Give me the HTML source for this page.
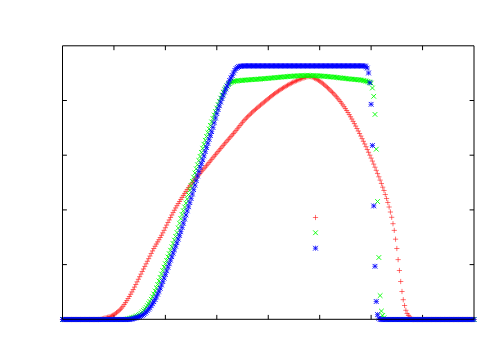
<!DOCTYPE html>
<html><head><meta charset="utf-8"><title>plot</title>
<style>html,body{margin:0;padding:0;background:#fff;font-family:"Liberation Sans",sans-serif}svg{display:block}</style></head><body>
<svg width="500" height="350" viewBox="0 0 500 350">
<rect width="500" height="350" fill="#fff"/>
<path d="M113.94 319.3v-4.4M113.94 45.8v4.4M165.38 319.3v-4.4M165.38 45.8v4.4M216.81 319.3v-4.4M216.81 45.8v4.4M268.25 319.3v-4.4M268.25 45.8v4.4M319.69 319.3v-4.4M319.69 45.8v4.4M371.12 319.3v-4.4M371.12 45.8v4.4M422.56 319.3v-4.4M422.56 45.8v4.4M62.5 100.50h4.4M474.0 100.50h-4.4M62.5 155.20h4.4M474.0 155.20h-4.4M62.5 209.90h4.4M474.0 209.90h-4.4M62.5 264.60h4.4M474.0 264.60h-4.4" fill="none" stroke="#000" stroke-width="1"/>
<path d="M59.90 319.50h5.20M62.50 316.90v5.20M61.19 319.50h5.20M63.79 316.90v5.20M62.47 319.50h5.20M65.07 316.90v5.20M63.76 319.50h5.20M66.36 316.90v5.20M65.04 319.50h5.20M67.64 316.90v5.20M66.33 319.50h5.20M68.93 316.90v5.20M67.62 319.50h5.20M70.22 316.90v5.20M68.90 319.50h5.20M71.50 316.90v5.20M70.19 319.50h5.20M72.79 316.90v5.20M71.47 319.50h5.20M74.07 316.90v5.20M72.76 319.50h5.20M75.36 316.90v5.20M74.05 319.50h5.20M76.65 316.90v5.20M75.33 319.50h5.20M77.93 316.90v5.20M76.62 319.50h5.20M79.22 316.90v5.20M77.90 319.50h5.20M80.50 316.90v5.20M79.19 319.50h5.20M81.79 316.90v5.20M80.48 319.50h5.20M83.08 316.90v5.20M81.76 319.50h5.20M84.36 316.90v5.20M83.05 319.50h5.20M85.65 316.90v5.20M84.33 319.50h5.20M86.93 316.90v5.20M85.62 319.50h5.20M88.22 316.90v5.20M86.90 319.50h5.20M89.50 316.90v5.20M88.19 319.50h5.20M90.79 316.90v5.20M89.48 319.50h5.20M92.08 316.90v5.20M90.76 319.50h5.20M93.36 316.90v5.20M92.05 319.50h5.20M94.65 316.90v5.20M93.33 319.50h5.20M95.93 316.90v5.20M94.62 319.50h5.20M97.22 316.90v5.20M95.91 319.50h5.20M98.51 316.90v5.20M97.19 319.45h5.20M99.79 316.85v5.20M98.48 319.21h5.20M101.08 316.61v5.20M99.76 318.84h5.20M102.36 316.24v5.20M101.05 318.41h5.20M103.65 315.81v5.20M102.34 318.02h5.20M104.94 315.42v5.20M103.62 317.68h5.20M106.22 315.08v5.20M104.91 317.34h5.20M107.51 314.74v5.20M106.19 316.97h5.20M108.79 314.37v5.20M107.48 316.55h5.20M110.08 313.95v5.20M108.77 316.04h5.20M111.37 313.44v5.20M110.05 315.39h5.20M112.65 312.79v5.20M111.34 314.60h5.20M113.94 312.00v5.20M112.62 313.71h5.20M115.22 311.11v5.20M113.91 312.77h5.20M116.51 310.17v5.20M115.20 311.74h5.20M117.80 309.14v5.20M116.48 310.59h5.20M119.08 307.99v5.20M117.77 309.33h5.20M120.37 306.73v5.20M119.05 307.94h5.20M121.65 305.34v5.20M120.34 306.36h5.20M122.94 303.76v5.20M121.62 304.56h5.20M124.22 301.96v5.20M122.91 302.63h5.20M125.51 300.03v5.20M124.20 300.63h5.20M126.80 298.03v5.20M125.48 298.60h5.20M128.08 296.00v5.20M126.77 296.47h5.20M129.37 293.87v5.20M128.05 294.24h5.20M130.65 291.64v5.20M129.34 291.94h5.20M131.94 289.34v5.20M130.63 289.58h5.20M133.23 286.98v5.20M131.91 287.08h5.20M134.51 284.48v5.20M133.20 284.48h5.20M135.80 281.88v5.20M134.48 281.85h5.20M137.08 279.25v5.20M135.77 279.26h5.20M138.37 276.66v5.20M137.06 276.69h5.20M139.66 274.09v5.20M138.34 274.12h5.20M140.94 271.52v5.20M139.63 271.54h5.20M142.23 268.94v5.20M140.91 268.97h5.20M143.51 266.37v5.20M142.20 266.40h5.20M144.80 263.80v5.20M143.49 263.83h5.20M146.09 261.23v5.20M144.77 261.26h5.20M147.37 258.66v5.20M146.06 258.67h5.20M148.66 256.07v5.20M147.34 256.05h5.20M149.94 253.45v5.20M148.63 253.45h5.20M151.23 250.85v5.20M149.92 250.92h5.20M152.52 248.32v5.20M151.20 248.52h5.20M153.80 245.92v5.20M152.49 246.25h5.20M155.09 243.65v5.20M153.77 244.05h5.20M156.37 241.45v5.20M155.06 241.89h5.20M157.66 239.29v5.20M156.35 239.73h5.20M158.95 237.13v5.20M157.63 237.53h5.20M160.23 234.93v5.20M158.92 235.26h5.20M161.52 232.66v5.20M160.20 232.86h5.20M162.80 230.26v5.20M161.49 230.33h5.20M164.09 227.73v5.20M162.78 227.72h5.20M165.38 225.12v5.20M164.06 225.08h5.20M166.66 222.48v5.20M165.35 222.47h5.20M167.95 219.87v5.20M166.63 219.94h5.20M169.23 217.34v5.20M167.92 217.47h5.20M170.52 214.87v5.20M169.20 215.01h5.20M171.80 212.41v5.20M170.49 212.60h5.20M173.09 210.00v5.20M171.78 210.23h5.20M174.38 207.63v5.20M173.06 207.94h5.20M175.66 205.34v5.20M174.35 205.72h5.20M176.95 203.12v5.20M175.63 203.57h5.20M178.23 200.97v5.20M176.92 201.48h5.20M179.52 198.88v5.20M178.21 199.43h5.20M180.81 196.83v5.20M179.49 197.41h5.20M182.09 194.81v5.20M180.78 195.41h5.20M183.38 192.81v5.20M182.06 193.41h5.20M184.66 190.81v5.20M183.35 191.44h5.20M185.95 188.84v5.20M184.64 189.51h5.20M187.24 186.91v5.20M185.92 187.66h5.20M188.52 185.06v5.20M187.21 185.90h5.20M189.81 183.30v5.20M188.49 184.20h5.20M191.09 181.60v5.20M189.78 182.55h5.20M192.38 179.95v5.20M191.07 180.94h5.20M193.67 178.34v5.20M192.35 179.36h5.20M194.95 176.76v5.20M193.64 177.81h5.20M196.24 175.21v5.20M194.92 176.27h5.20M197.52 173.67v5.20M196.21 174.75h5.20M198.81 172.15v5.20M197.50 173.23h5.20M200.10 170.63v5.20M198.78 171.70h5.20M201.38 169.10v5.20M200.07 170.18h5.20M202.67 167.58v5.20M201.35 168.69h5.20M203.95 166.09v5.20M202.64 167.20h5.20M205.24 164.60v5.20M203.93 165.67h5.20M206.53 163.07v5.20M205.21 164.11h5.20M207.81 161.51v5.20M206.50 162.52h5.20M209.10 159.92v5.20M207.78 160.93h5.20M210.38 158.33v5.20M209.07 159.34h5.20M211.67 156.74v5.20M210.35 157.77h5.20M212.95 155.17v5.20M211.64 156.20h5.20M214.24 153.60v5.20M212.93 154.64h5.20M215.53 152.04v5.20M214.21 153.09h5.20M216.81 150.49v5.20M215.50 151.54h5.20M218.10 148.94v5.20M216.78 150.00h5.20M219.38 147.40v5.20M218.07 148.46h5.20M220.67 145.86v5.20M219.36 146.93h5.20M221.96 144.33v5.20M220.64 145.41h5.20M223.24 142.81v5.20M221.93 143.90h5.20M224.53 141.30v5.20M223.21 142.39h5.20M225.81 139.79v5.20M224.50 140.88h5.20M227.10 138.28v5.20M225.79 139.40h5.20M228.39 136.80v5.20M227.07 137.92h5.20M229.67 135.32v5.20M228.36 136.45h5.20M230.96 133.85v5.20M229.64 134.98h5.20M232.24 132.38v5.20M230.93 133.49h5.20M233.53 130.89v5.20M232.22 131.98h5.20M234.82 129.38v5.20M233.50 130.42h5.20M236.10 127.82v5.20M234.79 128.81h5.20M237.39 126.21v5.20M236.07 127.18h5.20M238.67 124.58v5.20M237.36 125.54h5.20M239.96 122.94v5.20M238.65 123.92h5.20M241.25 121.32v5.20M239.93 122.34h5.20M242.53 119.74v5.20M241.22 120.82h5.20M243.82 118.22v5.20M242.50 119.39h5.20M245.10 116.79v5.20M243.79 118.03h5.20M246.39 115.43v5.20M245.07 116.71h5.20M247.67 114.11v5.20M246.36 115.43h5.20M248.96 112.83v5.20M247.65 114.19h5.20M250.25 111.59v5.20M248.93 112.97h5.20M251.53 110.37v5.20M250.22 111.78h5.20M252.82 109.18v5.20M251.50 110.61h5.20M254.10 108.01v5.20M252.79 109.45h5.20M255.39 106.85v5.20M254.08 108.32h5.20M256.68 105.72v5.20M255.36 107.21h5.20M257.96 104.61v5.20M256.65 106.13h5.20M259.25 103.53v5.20M257.93 105.06h5.20M260.53 102.46v5.20M259.22 104.00h5.20M261.82 101.40v5.20M260.51 102.95h5.20M263.11 100.35v5.20M261.79 101.90h5.20M264.39 99.30v5.20M263.08 100.84h5.20M265.68 98.24v5.20M264.36 99.78h5.20M266.96 97.18v5.20M265.65 98.72h5.20M268.25 96.12v5.20M266.94 97.66h5.20M269.54 95.06v5.20M268.22 96.61h5.20M270.82 94.01v5.20M269.51 95.59h5.20M272.11 92.99v5.20M270.79 94.59h5.20M273.39 91.99v5.20M272.08 93.63h5.20M274.68 91.03v5.20M273.37 92.71h5.20M275.97 90.11v5.20M274.65 91.80h5.20M277.25 89.20v5.20M275.94 90.92h5.20M278.54 88.32v5.20M277.22 90.06h5.20M279.82 87.46v5.20M278.51 89.21h5.20M281.11 86.61v5.20M279.80 88.39h5.20M282.40 85.79v5.20M281.08 87.60h5.20M283.68 85.00v5.20M282.37 86.82h5.20M284.97 84.22v5.20M283.65 86.06h5.20M286.25 83.46v5.20M284.94 85.31h5.20M287.54 82.71v5.20M286.22 84.58h5.20M288.82 81.98v5.20M287.51 83.87h5.20M290.11 81.27v5.20M288.80 83.18h5.20M291.40 80.58v5.20M290.08 82.52h5.20M292.68 79.92v5.20M291.37 81.88h5.20M293.97 79.28v5.20M292.65 81.28h5.20M295.25 78.68v5.20M293.94 80.71h5.20M296.54 78.11v5.20M295.23 80.15h5.20M297.83 77.55v5.20M296.51 79.61h5.20M299.11 77.01v5.20M297.80 79.11h5.20M300.40 76.51v5.20M299.08 78.64h5.20M301.68 76.04v5.20M300.37 78.21h5.20M302.97 75.61v5.20M301.66 77.77h5.20M304.26 75.17v5.20M302.94 77.32h5.20M305.54 74.72v5.20M304.23 76.91h5.20M306.83 74.31v5.20M305.51 76.61h5.20M308.11 74.01v5.20M306.80 76.50h5.20M309.40 73.90v5.20M308.09 76.65h5.20M310.69 74.05v5.20M309.37 77.04h5.20M311.97 74.44v5.20M310.66 77.60h5.20M313.26 75.00v5.20M311.94 78.25h5.20M314.54 75.65v5.20M313.23 78.92h5.20M315.83 76.32v5.20M314.52 79.58h5.20M317.12 76.98v5.20M315.80 80.34h5.20M318.40 77.74v5.20M317.09 81.18h5.20M319.69 78.58v5.20M318.37 82.10h5.20M320.97 79.50v5.20M319.66 83.08h5.20M322.26 80.48v5.20M320.95 84.13h5.20M323.55 81.53v5.20M322.23 85.23h5.20M324.83 82.63v5.20M323.52 86.37h5.20M326.12 83.77v5.20M324.80 87.56h5.20M327.40 84.96v5.20M326.09 88.77h5.20M328.69 86.17v5.20M327.37 90.02h5.20M329.97 87.42v5.20M328.66 91.27h5.20M331.26 88.67v5.20M329.95 92.55h5.20M332.55 89.95v5.20M331.23 93.88h5.20M333.83 91.28v5.20M332.52 95.28h5.20M335.12 92.68v5.20M333.80 96.74h5.20M336.40 94.14v5.20M335.09 98.26h5.20M337.69 95.66v5.20M336.38 99.85h5.20M338.98 97.25v5.20M337.66 101.49h5.20M340.26 98.89v5.20M338.95 103.19h5.20M341.55 100.59v5.20M340.23 104.94h5.20M342.83 102.34v5.20M341.52 106.74h5.20M344.12 104.14v5.20M342.81 108.59h5.20M345.41 105.99v5.20M344.09 110.52h5.20M346.69 107.92v5.20M345.38 112.53h5.20M347.98 109.93v5.20M346.66 114.63h5.20M349.26 112.03v5.20M347.95 116.79h5.20M350.55 114.19v5.20M349.24 119.02h5.20M351.84 116.42v5.20M350.52 121.32h5.20M353.12 118.72v5.20M351.81 123.67h5.20M354.41 121.07v5.20M353.09 126.07h5.20M355.69 123.47v5.20M354.38 128.52h5.20M356.98 125.92v5.20M355.67 131.00h5.20M358.27 128.40v5.20M356.95 133.52h5.20M359.55 130.92v5.20M358.24 136.07h5.20M360.84 133.47v5.20M359.52 138.66h5.20M362.12 136.06v5.20M360.81 141.29h5.20M363.41 138.69v5.20M362.10 143.97h5.20M364.70 141.37v5.20M363.38 146.70h5.20M365.98 144.10v5.20M364.67 149.48h5.20M367.27 146.88v5.20M365.95 152.30h5.20M368.55 149.70v5.20M367.24 155.18h5.20M369.84 152.58v5.20M368.52 158.11h5.20M371.12 155.51v5.20M369.81 161.09h5.20M372.41 158.49v5.20M371.10 164.13h5.20M373.70 161.53v5.20M372.38 167.21h5.20M374.98 164.61v5.20M373.67 170.36h5.20M376.27 167.76v5.20M374.95 173.56h5.20M377.55 170.96v5.20M376.24 176.81h5.20M378.84 174.21v5.20M377.53 180.13h5.20M380.13 177.53v5.20M378.81 183.50h5.20M381.41 180.90v5.20M380.10 187.20h5.20M382.70 184.60v5.20M381.38 190.50h5.20M383.98 187.90v5.20M382.67 194.50h5.20M385.27 191.90v5.20M383.96 198.50h5.20M386.56 195.90v5.20M385.24 202.50h5.20M387.84 199.90v5.20M386.53 207.00h5.20M389.13 204.40v5.20M387.81 212.00h5.20M390.41 209.40v5.20M389.10 217.30h5.20M391.70 214.70v5.20M390.39 223.70h5.20M392.99 221.10v5.20M391.67 230.40h5.20M394.27 227.80v5.20M392.96 239.20h5.20M395.56 236.60v5.20M394.24 248.50h5.20M396.84 245.90v5.20M395.53 259.60h5.20M398.13 257.00v5.20M396.82 270.50h5.20M399.42 267.90v5.20M398.10 281.50h5.20M400.70 278.90v5.20M399.39 291.50h5.20M401.99 288.90v5.20M400.67 299.70h5.20M403.27 297.10v5.20M401.96 305.50h5.20M404.56 302.90v5.20M403.25 310.30h5.20M405.85 307.70v5.20M404.53 313.50h5.20M407.13 310.90v5.20M405.82 315.40h5.20M408.42 312.80v5.20M407.10 317.00h5.20M409.70 314.40v5.20M408.39 318.20h5.20M410.99 315.60v5.20M409.67 319.50h5.20M412.27 316.90v5.20M410.96 319.50h5.20M413.56 316.90v5.20M412.25 319.50h5.20M414.85 316.90v5.20M413.53 319.50h5.20M416.13 316.90v5.20M414.82 319.50h5.20M417.42 316.90v5.20M416.10 319.50h5.20M418.70 316.90v5.20M417.39 319.50h5.20M419.99 316.90v5.20M418.68 319.50h5.20M421.28 316.90v5.20M419.96 319.50h5.20M422.56 316.90v5.20M421.25 319.50h5.20M423.85 316.90v5.20M422.53 319.50h5.20M425.13 316.90v5.20M423.82 319.50h5.20M426.42 316.90v5.20M425.11 319.50h5.20M427.71 316.90v5.20M426.39 319.50h5.20M428.99 316.90v5.20M427.68 319.50h5.20M430.28 316.90v5.20M428.96 319.50h5.20M431.56 316.90v5.20M430.25 319.50h5.20M432.85 316.90v5.20M431.54 319.50h5.20M434.14 316.90v5.20M432.82 319.50h5.20M435.42 316.90v5.20M434.11 319.50h5.20M436.71 316.90v5.20M435.39 319.50h5.20M437.99 316.90v5.20M436.68 319.50h5.20M439.28 316.90v5.20M437.97 319.50h5.20M440.57 316.90v5.20M439.25 319.50h5.20M441.85 316.90v5.20M440.54 319.50h5.20M443.14 316.90v5.20M441.82 319.50h5.20M444.42 316.90v5.20M443.11 319.50h5.20M445.71 316.90v5.20M444.40 319.50h5.20M447.00 316.90v5.20M445.68 319.50h5.20M448.28 316.90v5.20M446.97 319.50h5.20M449.57 316.90v5.20M448.25 319.50h5.20M450.85 316.90v5.20M449.54 319.50h5.20M452.14 316.90v5.20M450.82 319.50h5.20M453.43 316.90v5.20M452.11 319.50h5.20M454.71 316.90v5.20M453.40 319.50h5.20M456.00 316.90v5.20M454.68 319.50h5.20M457.28 316.90v5.20M455.97 319.50h5.20M458.57 316.90v5.20M457.25 319.50h5.20M459.85 316.90v5.20M458.54 319.50h5.20M461.14 316.90v5.20M459.83 319.50h5.20M462.43 316.90v5.20M461.11 319.50h5.20M463.71 316.90v5.20M462.40 319.50h5.20M465.00 316.90v5.20M463.68 319.50h5.20M466.28 316.90v5.20M464.97 319.50h5.20M467.57 316.90v5.20M466.26 319.50h5.20M468.86 316.90v5.20M467.54 319.50h5.20M470.14 316.90v5.20M468.83 319.50h5.20M471.43 316.90v5.20M470.11 319.50h5.20M472.71 316.90v5.20M471.40 319.50h5.20M474.00 316.90v5.20M312.90 217.50h5.20M315.50 214.90v5.20" fill="none" stroke="#f00" stroke-width="0.55"/>
<path d="M60.15 317.15l4.70 4.70M60.15 321.85l4.70 -4.70M61.44 317.15l4.70 4.70M61.44 321.85l4.70 -4.70M62.72 317.15l4.70 4.70M62.72 321.85l4.70 -4.70M64.01 317.15l4.70 4.70M64.01 321.85l4.70 -4.70M65.29 317.15l4.70 4.70M65.29 321.85l4.70 -4.70M66.58 317.15l4.70 4.70M66.58 321.85l4.70 -4.70M67.87 317.15l4.70 4.70M67.87 321.85l4.70 -4.70M69.15 317.15l4.70 4.70M69.15 321.85l4.70 -4.70M70.44 317.15l4.70 4.70M70.44 321.85l4.70 -4.70M71.72 317.15l4.70 4.70M71.72 321.85l4.70 -4.70M73.01 317.15l4.70 4.70M73.01 321.85l4.70 -4.70M74.30 317.15l4.70 4.70M74.30 321.85l4.70 -4.70M75.58 317.15l4.70 4.70M75.58 321.85l4.70 -4.70M76.87 317.15l4.70 4.70M76.87 321.85l4.70 -4.70M78.15 317.15l4.70 4.70M78.15 321.85l4.70 -4.70M79.44 317.15l4.70 4.70M79.44 321.85l4.70 -4.70M80.73 317.15l4.70 4.70M80.73 321.85l4.70 -4.70M82.01 317.15l4.70 4.70M82.01 321.85l4.70 -4.70M83.30 317.15l4.70 4.70M83.30 321.85l4.70 -4.70M84.58 317.15l4.70 4.70M84.58 321.85l4.70 -4.70M85.87 317.15l4.70 4.70M85.87 321.85l4.70 -4.70M87.15 317.15l4.70 4.70M87.15 321.85l4.70 -4.70M88.44 317.15l4.70 4.70M88.44 321.85l4.70 -4.70M89.73 317.15l4.70 4.70M89.73 321.85l4.70 -4.70M91.01 317.15l4.70 4.70M91.01 321.85l4.70 -4.70M92.30 317.15l4.70 4.70M92.30 321.85l4.70 -4.70M93.58 317.15l4.70 4.70M93.58 321.85l4.70 -4.70M94.87 317.15l4.70 4.70M94.87 321.85l4.70 -4.70M96.16 317.15l4.70 4.70M96.16 321.85l4.70 -4.70M97.44 317.15l4.70 4.70M97.44 321.85l4.70 -4.70M98.73 317.15l4.70 4.70M98.73 321.85l4.70 -4.70M100.01 317.15l4.70 4.70M100.01 321.85l4.70 -4.70M101.30 317.15l4.70 4.70M101.30 321.85l4.70 -4.70M102.59 317.15l4.70 4.70M102.59 321.85l4.70 -4.70M103.87 317.15l4.70 4.70M103.87 321.85l4.70 -4.70M105.16 317.15l4.70 4.70M105.16 321.85l4.70 -4.70M106.44 317.15l4.70 4.70M106.44 321.85l4.70 -4.70M107.73 317.15l4.70 4.70M107.73 321.85l4.70 -4.70M109.02 317.15l4.70 4.70M109.02 321.85l4.70 -4.70M110.30 317.15l4.70 4.70M110.30 321.85l4.70 -4.70M111.59 317.15l4.70 4.70M111.59 321.85l4.70 -4.70M112.87 317.15l4.70 4.70M112.87 321.85l4.70 -4.70M114.16 317.15l4.70 4.70M114.16 321.85l4.70 -4.70M115.45 317.15l4.70 4.70M115.45 321.85l4.70 -4.70M116.73 317.15l4.70 4.70M116.73 321.85l4.70 -4.70M118.02 317.15l4.70 4.70M118.02 321.85l4.70 -4.70M119.30 317.15l4.70 4.70M119.30 321.85l4.70 -4.70M120.59 317.15l4.70 4.70M120.59 321.85l4.70 -4.70M121.88 317.15l4.70 4.70M121.88 321.85l4.70 -4.70M123.16 317.06l4.70 4.70M123.16 321.76l4.70 -4.70M124.45 316.85l4.70 4.70M124.45 321.55l4.70 -4.70M125.73 316.56l4.70 4.70M125.73 321.26l4.70 -4.70M127.02 316.21l4.70 4.70M127.02 320.91l4.70 -4.70M128.30 315.84l4.70 4.70M128.30 320.54l4.70 -4.70M129.59 315.47l4.70 4.70M129.59 320.17l4.70 -4.70M130.88 315.09l4.70 4.70M130.88 319.79l4.70 -4.70M132.16 314.67l4.70 4.70M132.16 319.37l4.70 -4.70M133.45 314.19l4.70 4.70M133.45 318.89l4.70 -4.70M134.73 313.62l4.70 4.70M134.73 318.32l4.70 -4.70M136.02 312.94l4.70 4.70M136.02 317.64l4.70 -4.70M137.31 312.03l4.70 4.70M137.31 316.73l4.70 -4.70M138.59 310.89l4.70 4.70M138.59 315.59l4.70 -4.70M139.88 309.60l4.70 4.70M139.88 314.30l4.70 -4.70M141.16 308.19l4.70 4.70M141.16 312.89l4.70 -4.70M142.45 306.71l4.70 4.70M142.45 311.41l4.70 -4.70M143.74 305.06l4.70 4.70M143.74 309.76l4.70 -4.70M145.02 303.23l4.70 4.70M145.02 307.93l4.70 -4.70M146.31 301.25l4.70 4.70M146.31 305.95l4.70 -4.70M147.59 299.13l4.70 4.70M147.59 303.83l4.70 -4.70M148.88 296.88l4.70 4.70M148.88 301.58l4.70 -4.70M150.17 294.35l4.70 4.70M150.17 299.05l4.70 -4.70M151.45 291.57l4.70 4.70M151.45 296.27l4.70 -4.70M152.74 288.62l4.70 4.70M152.74 293.32l4.70 -4.70M154.02 285.50l4.70 4.70M154.02 290.20l4.70 -4.70M155.31 282.09l4.70 4.70M155.31 286.79l4.70 -4.70M156.60 278.60l4.70 4.70M156.60 283.30l4.70 -4.70M157.88 275.15l4.70 4.70M157.88 279.85l4.70 -4.70M159.17 271.65l4.70 4.70M159.17 276.35l4.70 -4.70M160.45 268.18l4.70 4.70M160.45 272.88l4.70 -4.70M161.74 264.76l4.70 4.70M161.74 269.46l4.70 -4.70M163.03 261.39l4.70 4.70M163.03 266.09l4.70 -4.70M164.31 258.02l4.70 4.70M164.31 262.72l4.70 -4.70M165.60 254.64l4.70 4.70M165.60 259.34l4.70 -4.70M166.88 251.27l4.70 4.70M166.88 255.97l4.70 -4.70M168.17 247.87l4.70 4.70M168.17 252.57l4.70 -4.70M169.45 244.49l4.70 4.70M169.45 249.19l4.70 -4.70M170.74 241.17l4.70 4.70M170.74 245.87l4.70 -4.70M172.03 237.76l4.70 4.70M172.03 242.46l4.70 -4.70M173.31 234.16l4.70 4.70M173.31 238.86l4.70 -4.70M174.60 230.21l4.70 4.70M174.60 234.91l4.70 -4.70M175.88 225.67l4.70 4.70M175.88 230.37l4.70 -4.70M177.17 220.87l4.70 4.70M177.17 225.57l4.70 -4.70M178.46 216.29l4.70 4.70M178.46 220.99l4.70 -4.70M179.74 212.21l4.70 4.70M179.74 216.91l4.70 -4.70M181.03 208.39l4.70 4.70M181.03 213.09l4.70 -4.70M182.31 204.64l4.70 4.70M182.31 209.34l4.70 -4.70M183.60 200.76l4.70 4.70M183.60 205.46l4.70 -4.70M184.89 196.58l4.70 4.70M184.89 201.28l4.70 -4.70M186.17 192.20l4.70 4.70M186.17 196.90l4.70 -4.70M187.46 187.74l4.70 4.70M187.46 192.44l4.70 -4.70M188.74 183.34l4.70 4.70M188.74 188.04l4.70 -4.70M190.03 179.06l4.70 4.70M190.03 183.76l4.70 -4.70M191.32 174.82l4.70 4.70M191.32 179.52l4.70 -4.70M192.60 170.63l4.70 4.70M192.60 175.33l4.70 -4.70M193.89 166.49l4.70 4.70M193.89 171.19l4.70 -4.70M195.17 162.35l4.70 4.70M195.17 167.05l4.70 -4.70M196.46 158.22l4.70 4.70M196.46 162.92l4.70 -4.70M197.75 154.09l4.70 4.70M197.75 158.79l4.70 -4.70M199.03 149.99l4.70 4.70M199.03 154.69l4.70 -4.70M200.32 145.92l4.70 4.70M200.32 150.62l4.70 -4.70M201.60 141.90l4.70 4.70M201.60 146.60l4.70 -4.70M202.89 137.94l4.70 4.70M202.89 142.64l4.70 -4.70M204.18 134.05l4.70 4.70M204.18 138.75l4.70 -4.70M205.46 130.25l4.70 4.70M205.46 134.95l4.70 -4.70M206.75 126.55l4.70 4.70M206.75 131.25l4.70 -4.70M208.03 122.99l4.70 4.70M208.03 127.69l4.70 -4.70M209.32 119.54l4.70 4.70M209.32 124.24l4.70 -4.70M210.60 116.12l4.70 4.70M210.60 120.82l4.70 -4.70M211.89 112.70l4.70 4.70M211.89 117.40l4.70 -4.70M213.18 109.21l4.70 4.70M213.18 113.91l4.70 -4.70M214.46 105.64l4.70 4.70M214.46 110.34l4.70 -4.70M215.75 102.17l4.70 4.70M215.75 106.87l4.70 -4.70M217.03 98.88l4.70 4.70M217.03 103.58l4.70 -4.70M218.32 95.71l4.70 4.70M218.32 100.41l4.70 -4.70M219.61 92.75l4.70 4.70M219.61 97.45l4.70 -4.70M220.89 89.91l4.70 4.70M220.89 94.61l4.70 -4.70M222.18 87.28l4.70 4.70M222.18 91.98l4.70 -4.70M223.46 85.20l4.70 4.70M223.46 89.90l4.70 -4.70M224.75 83.55l4.70 4.70M224.75 88.25l4.70 -4.70M226.04 82.20l4.70 4.70M226.04 86.90l4.70 -4.70M227.32 81.10l4.70 4.70M227.32 85.80l4.70 -4.70M228.61 80.17l4.70 4.70M228.61 84.87l4.70 -4.70M229.89 79.56l4.70 4.70M229.89 84.26l4.70 -4.70M231.18 79.16l4.70 4.70M231.18 83.86l4.70 -4.70M232.47 78.86l4.70 4.70M232.47 83.56l4.70 -4.70M233.75 78.64l4.70 4.70M233.75 83.34l4.70 -4.70M235.04 78.47l4.70 4.70M235.04 83.17l4.70 -4.70M236.32 78.34l4.70 4.70M236.32 83.04l4.70 -4.70M237.61 78.22l4.70 4.70M237.61 82.92l4.70 -4.70M238.90 78.12l4.70 4.70M238.90 82.82l4.70 -4.70M240.18 78.00l4.70 4.70M240.18 82.70l4.70 -4.70M241.47 77.89l4.70 4.70M241.47 82.59l4.70 -4.70M242.75 77.78l4.70 4.70M242.75 82.48l4.70 -4.70M244.04 77.68l4.70 4.70M244.04 82.38l4.70 -4.70M245.32 77.57l4.70 4.70M245.32 82.27l4.70 -4.70M246.61 77.47l4.70 4.70M246.61 82.17l4.70 -4.70M247.90 77.37l4.70 4.70M247.90 82.07l4.70 -4.70M249.18 77.28l4.70 4.70M249.18 81.98l4.70 -4.70M250.47 77.18l4.70 4.70M250.47 81.88l4.70 -4.70M251.75 77.09l4.70 4.70M251.75 81.79l4.70 -4.70M253.04 76.99l4.70 4.70M253.04 81.69l4.70 -4.70M254.33 76.90l4.70 4.70M254.33 81.60l4.70 -4.70M255.61 76.80l4.70 4.70M255.61 81.50l4.70 -4.70M256.90 76.71l4.70 4.70M256.90 81.41l4.70 -4.70M258.18 76.61l4.70 4.70M258.18 81.31l4.70 -4.70M259.47 76.51l4.70 4.70M259.47 81.21l4.70 -4.70M260.76 76.41l4.70 4.70M260.76 81.11l4.70 -4.70M262.04 76.30l4.70 4.70M262.04 81.00l4.70 -4.70M263.33 76.19l4.70 4.70M263.33 80.89l4.70 -4.70M264.61 76.08l4.70 4.70M264.61 80.78l4.70 -4.70M265.90 75.96l4.70 4.70M265.90 80.66l4.70 -4.70M267.19 75.84l4.70 4.70M267.19 80.54l4.70 -4.70M268.47 75.72l4.70 4.70M268.47 80.42l4.70 -4.70M269.76 75.60l4.70 4.70M269.76 80.30l4.70 -4.70M271.04 75.48l4.70 4.70M271.04 80.18l4.70 -4.70M272.33 75.36l4.70 4.70M272.33 80.06l4.70 -4.70M273.62 75.24l4.70 4.70M273.62 79.94l4.70 -4.70M274.90 75.12l4.70 4.70M274.90 79.82l4.70 -4.70M276.19 75.00l4.70 4.70M276.19 79.70l4.70 -4.70M277.47 74.88l4.70 4.70M277.47 79.58l4.70 -4.70M278.76 74.76l4.70 4.70M278.76 79.46l4.70 -4.70M280.05 74.64l4.70 4.70M280.05 79.34l4.70 -4.70M281.33 74.53l4.70 4.70M281.33 79.23l4.70 -4.70M282.62 74.42l4.70 4.70M282.62 79.12l4.70 -4.70M283.90 74.31l4.70 4.70M283.90 79.01l4.70 -4.70M285.19 74.20l4.70 4.70M285.19 78.90l4.70 -4.70M286.47 74.10l4.70 4.70M286.47 78.80l4.70 -4.70M287.76 74.00l4.70 4.70M287.76 78.70l4.70 -4.70M289.05 73.91l4.70 4.70M289.05 78.61l4.70 -4.70M290.33 73.82l4.70 4.70M290.33 78.52l4.70 -4.70M291.62 73.73l4.70 4.70M291.62 78.43l4.70 -4.70M292.90 73.66l4.70 4.70M292.90 78.36l4.70 -4.70M294.19 73.58l4.70 4.70M294.19 78.28l4.70 -4.70M295.48 73.52l4.70 4.70M295.48 78.22l4.70 -4.70M296.76 73.46l4.70 4.70M296.76 78.16l4.70 -4.70M298.05 73.40l4.70 4.70M298.05 78.10l4.70 -4.70M299.33 73.36l4.70 4.70M299.33 78.06l4.70 -4.70M300.62 73.32l4.70 4.70M300.62 78.02l4.70 -4.70M301.91 73.29l4.70 4.70M301.91 77.99l4.70 -4.70M303.19 73.27l4.70 4.70M303.19 77.97l4.70 -4.70M304.48 73.25l4.70 4.70M304.48 77.95l4.70 -4.70M305.76 73.25l4.70 4.70M305.76 77.95l4.70 -4.70M307.05 73.26l4.70 4.70M307.05 77.96l4.70 -4.70M308.34 73.27l4.70 4.70M308.34 77.97l4.70 -4.70M309.62 73.30l4.70 4.70M309.62 78.00l4.70 -4.70M310.91 73.33l4.70 4.70M310.91 78.03l4.70 -4.70M312.19 73.37l4.70 4.70M312.19 78.07l4.70 -4.70M313.48 73.42l4.70 4.70M313.48 78.12l4.70 -4.70M314.77 73.48l4.70 4.70M314.77 78.18l4.70 -4.70M316.05 73.54l4.70 4.70M316.05 78.24l4.70 -4.70M317.34 73.61l4.70 4.70M317.34 78.31l4.70 -4.70M318.62 73.69l4.70 4.70M318.62 78.39l4.70 -4.70M319.91 73.78l4.70 4.70M319.91 78.48l4.70 -4.70M321.20 73.87l4.70 4.70M321.20 78.57l4.70 -4.70M322.48 73.97l4.70 4.70M322.48 78.67l4.70 -4.70M323.77 74.07l4.70 4.70M323.77 78.77l4.70 -4.70M325.05 74.18l4.70 4.70M325.05 78.88l4.70 -4.70M326.34 74.30l4.70 4.70M326.34 79.00l4.70 -4.70M327.62 74.42l4.70 4.70M327.62 79.12l4.70 -4.70M328.91 74.54l4.70 4.70M328.91 79.24l4.70 -4.70M330.20 74.67l4.70 4.70M330.20 79.37l4.70 -4.70M331.48 74.80l4.70 4.70M331.48 79.50l4.70 -4.70M332.77 74.93l4.70 4.70M332.77 79.63l4.70 -4.70M334.05 75.07l4.70 4.70M334.05 79.77l4.70 -4.70M335.34 75.21l4.70 4.70M335.34 79.91l4.70 -4.70M336.63 75.36l4.70 4.70M336.63 80.06l4.70 -4.70M337.91 75.50l4.70 4.70M337.91 80.20l4.70 -4.70M339.20 75.65l4.70 4.70M339.20 80.35l4.70 -4.70M340.48 75.80l4.70 4.70M340.48 80.50l4.70 -4.70M341.77 75.95l4.70 4.70M341.77 80.65l4.70 -4.70M343.06 76.10l4.70 4.70M343.06 80.80l4.70 -4.70M344.34 76.26l4.70 4.70M344.34 80.96l4.70 -4.70M345.63 76.41l4.70 4.70M345.63 81.11l4.70 -4.70M346.91 76.56l4.70 4.70M346.91 81.26l4.70 -4.70M348.20 76.71l4.70 4.70M348.20 81.41l4.70 -4.70M349.49 76.85l4.70 4.70M349.49 81.55l4.70 -4.70M350.77 76.96l4.70 4.70M350.77 81.66l4.70 -4.70M352.06 77.07l4.70 4.70M352.06 81.77l4.70 -4.70M353.34 77.18l4.70 4.70M353.34 81.88l4.70 -4.70M354.63 77.29l4.70 4.70M354.63 81.99l4.70 -4.70M355.92 77.42l4.70 4.70M355.92 82.12l4.70 -4.70M357.20 77.56l4.70 4.70M357.20 82.26l4.70 -4.70M358.49 77.72l4.70 4.70M358.49 82.42l4.70 -4.70M359.77 77.92l4.70 4.70M359.77 82.62l4.70 -4.70M361.06 78.15l4.70 4.70M361.06 82.85l4.70 -4.70M362.35 78.43l4.70 4.70M362.35 83.13l4.70 -4.70M363.63 78.76l4.70 4.70M363.63 83.46l4.70 -4.70M364.92 79.14l4.70 4.70M364.92 83.84l4.70 -4.70M366.20 79.59l4.70 4.70M366.20 84.29l4.70 -4.70M367.49 80.11l4.70 4.70M367.49 84.81l4.70 -4.70M368.77 80.77l4.70 4.70M368.77 85.47l4.70 -4.70M370.06 85.65l4.70 4.70M370.06 90.35l4.70 -4.70M371.35 93.95l4.70 4.70M371.35 98.65l4.70 -4.70M372.63 112.05l4.70 4.70M372.63 116.75l4.70 -4.70M373.92 146.85l4.70 4.70M373.92 151.55l4.70 -4.70M375.20 199.15l4.70 4.70M375.20 203.85l4.70 -4.70M376.49 255.15l4.70 4.70M376.49 259.85l4.70 -4.70M377.78 293.25l4.70 4.70M377.78 297.95l4.70 -4.70M379.06 308.75l4.70 4.70M379.06 313.45l4.70 -4.70M380.35 313.05l4.70 4.70M380.35 317.75l4.70 -4.70M381.63 315.45l4.70 4.70M381.63 320.15l4.70 -4.70M382.92 317.15l4.70 4.70M382.92 321.85l4.70 -4.70M384.21 317.15l4.70 4.70M384.21 321.85l4.70 -4.70M385.49 317.15l4.70 4.70M385.49 321.85l4.70 -4.70M386.78 317.15l4.70 4.70M386.78 321.85l4.70 -4.70M388.06 317.15l4.70 4.70M388.06 321.85l4.70 -4.70M389.35 317.15l4.70 4.70M389.35 321.85l4.70 -4.70M390.64 317.15l4.70 4.70M390.64 321.85l4.70 -4.70M391.92 317.15l4.70 4.70M391.92 321.85l4.70 -4.70M393.21 317.15l4.70 4.70M393.21 321.85l4.70 -4.70M394.49 317.15l4.70 4.70M394.49 321.85l4.70 -4.70M395.78 317.15l4.70 4.70M395.78 321.85l4.70 -4.70M397.07 317.15l4.70 4.70M397.07 321.85l4.70 -4.70M398.35 317.15l4.70 4.70M398.35 321.85l4.70 -4.70M399.64 317.15l4.70 4.70M399.64 321.85l4.70 -4.70M400.92 317.15l4.70 4.70M400.92 321.85l4.70 -4.70M402.21 317.15l4.70 4.70M402.21 321.85l4.70 -4.70M403.50 317.15l4.70 4.70M403.50 321.85l4.70 -4.70M404.78 317.15l4.70 4.70M404.78 321.85l4.70 -4.70M406.07 317.15l4.70 4.70M406.07 321.85l4.70 -4.70M407.35 317.15l4.70 4.70M407.35 321.85l4.70 -4.70M408.64 317.15l4.70 4.70M408.64 321.85l4.70 -4.70M409.92 317.15l4.70 4.70M409.92 321.85l4.70 -4.70M411.21 317.15l4.70 4.70M411.21 321.85l4.70 -4.70M412.50 317.15l4.70 4.70M412.50 321.85l4.70 -4.70M413.78 317.15l4.70 4.70M413.78 321.85l4.70 -4.70M415.07 317.15l4.70 4.70M415.07 321.85l4.70 -4.70M416.35 317.15l4.70 4.70M416.35 321.85l4.70 -4.70M417.64 317.15l4.70 4.70M417.64 321.85l4.70 -4.70M418.93 317.15l4.70 4.70M418.93 321.85l4.70 -4.70M420.21 317.15l4.70 4.70M420.21 321.85l4.70 -4.70M421.50 317.15l4.70 4.70M421.50 321.85l4.70 -4.70M422.78 317.15l4.70 4.70M422.78 321.85l4.70 -4.70M424.07 317.15l4.70 4.70M424.07 321.85l4.70 -4.70M425.36 317.15l4.70 4.70M425.36 321.85l4.70 -4.70M426.64 317.15l4.70 4.70M426.64 321.85l4.70 -4.70M427.93 317.15l4.70 4.70M427.93 321.85l4.70 -4.70M429.21 317.15l4.70 4.70M429.21 321.85l4.70 -4.70M430.50 317.15l4.70 4.70M430.50 321.85l4.70 -4.70M431.79 317.15l4.70 4.70M431.79 321.85l4.70 -4.70M433.07 317.15l4.70 4.70M433.07 321.85l4.70 -4.70M434.36 317.15l4.70 4.70M434.36 321.85l4.70 -4.70M435.64 317.15l4.70 4.70M435.64 321.85l4.70 -4.70M436.93 317.15l4.70 4.70M436.93 321.85l4.70 -4.70M438.22 317.15l4.70 4.70M438.22 321.85l4.70 -4.70M439.50 317.15l4.70 4.70M439.50 321.85l4.70 -4.70M440.79 317.15l4.70 4.70M440.79 321.85l4.70 -4.70M442.07 317.15l4.70 4.70M442.07 321.85l4.70 -4.70M443.36 317.15l4.70 4.70M443.36 321.85l4.70 -4.70M444.65 317.15l4.70 4.70M444.65 321.85l4.70 -4.70M445.93 317.15l4.70 4.70M445.93 321.85l4.70 -4.70M447.22 317.15l4.70 4.70M447.22 321.85l4.70 -4.70M448.50 317.15l4.70 4.70M448.50 321.85l4.70 -4.70M449.79 317.15l4.70 4.70M449.79 321.85l4.70 -4.70M451.07 317.15l4.70 4.70M451.07 321.85l4.70 -4.70M452.36 317.15l4.70 4.70M452.36 321.85l4.70 -4.70M453.65 317.15l4.70 4.70M453.65 321.85l4.70 -4.70M454.93 317.15l4.70 4.70M454.93 321.85l4.70 -4.70M456.22 317.15l4.70 4.70M456.22 321.85l4.70 -4.70M457.50 317.15l4.70 4.70M457.50 321.85l4.70 -4.70M458.79 317.15l4.70 4.70M458.79 321.85l4.70 -4.70M460.08 317.15l4.70 4.70M460.08 321.85l4.70 -4.70M461.36 317.15l4.70 4.70M461.36 321.85l4.70 -4.70M462.65 317.15l4.70 4.70M462.65 321.85l4.70 -4.70M463.93 317.15l4.70 4.70M463.93 321.85l4.70 -4.70M465.22 317.15l4.70 4.70M465.22 321.85l4.70 -4.70M466.51 317.15l4.70 4.70M466.51 321.85l4.70 -4.70M467.79 317.15l4.70 4.70M467.79 321.85l4.70 -4.70M469.08 317.15l4.70 4.70M469.08 321.85l4.70 -4.70M470.36 317.15l4.70 4.70M470.36 321.85l4.70 -4.70M471.65 317.15l4.70 4.70M471.65 321.85l4.70 -4.70M313.15 230.40l4.70 4.70M313.15 235.10l4.70 -4.70" fill="none" stroke="#0f0" stroke-width="0.9"/>
<path d="M59.90 319.50h5.20M62.50 316.90v5.20M61.19 319.50h5.20M63.79 316.90v5.20M62.47 319.50h5.20M65.07 316.90v5.20M63.76 319.50h5.20M66.36 316.90v5.20M65.04 319.50h5.20M67.64 316.90v5.20M66.33 319.50h5.20M68.93 316.90v5.20M67.62 319.50h5.20M70.22 316.90v5.20M68.90 319.50h5.20M71.50 316.90v5.20M70.19 319.50h5.20M72.79 316.90v5.20M71.47 319.50h5.20M74.07 316.90v5.20M72.76 319.50h5.20M75.36 316.90v5.20M74.05 319.50h5.20M76.65 316.90v5.20M75.33 319.50h5.20M77.93 316.90v5.20M76.62 319.50h5.20M79.22 316.90v5.20M77.90 319.50h5.20M80.50 316.90v5.20M79.19 319.50h5.20M81.79 316.90v5.20M80.48 319.50h5.20M83.08 316.90v5.20M81.76 319.50h5.20M84.36 316.90v5.20M83.05 319.50h5.20M85.65 316.90v5.20M84.33 319.50h5.20M86.93 316.90v5.20M85.62 319.50h5.20M88.22 316.90v5.20M86.90 319.50h5.20M89.50 316.90v5.20M88.19 319.50h5.20M90.79 316.90v5.20M89.48 319.50h5.20M92.08 316.90v5.20M90.76 319.50h5.20M93.36 316.90v5.20M92.05 319.50h5.20M94.65 316.90v5.20M93.33 319.50h5.20M95.93 316.90v5.20M94.62 319.50h5.20M97.22 316.90v5.20M95.91 319.50h5.20M98.51 316.90v5.20M97.19 319.50h5.20M99.79 316.90v5.20M98.48 319.50h5.20M101.08 316.90v5.20M99.76 319.50h5.20M102.36 316.90v5.20M101.05 319.50h5.20M103.65 316.90v5.20M102.34 319.50h5.20M104.94 316.90v5.20M103.62 319.50h5.20M106.22 316.90v5.20M104.91 319.50h5.20M107.51 316.90v5.20M106.19 319.50h5.20M108.79 316.90v5.20M107.48 319.50h5.20M110.08 316.90v5.20M108.77 319.50h5.20M111.37 316.90v5.20M110.05 319.50h5.20M112.65 316.90v5.20M111.34 319.50h5.20M113.94 316.90v5.20M112.62 319.50h5.20M115.22 316.90v5.20M113.91 319.50h5.20M116.51 316.90v5.20M115.20 319.50h5.20M117.80 316.90v5.20M116.48 319.50h5.20M119.08 316.90v5.20M117.77 319.50h5.20M120.37 316.90v5.20M119.05 319.50h5.20M121.65 316.90v5.20M120.34 319.50h5.20M122.94 316.90v5.20M121.62 319.50h5.20M124.22 316.90v5.20M122.91 319.50h5.20M125.51 316.90v5.20M124.20 319.50h5.20M126.80 316.90v5.20M125.48 319.50h5.20M128.08 316.90v5.20M126.77 319.43h5.20M129.37 316.83v5.20M128.05 319.24h5.20M130.65 316.64v5.20M129.34 318.97h5.20M131.94 316.37v5.20M130.63 318.64h5.20M133.23 316.04v5.20M131.91 318.26h5.20M134.51 315.66v5.20M133.20 317.87h5.20M135.80 315.27v5.20M134.48 317.48h5.20M137.08 314.88v5.20M135.77 317.06h5.20M138.37 314.46v5.20M137.06 316.57h5.20M139.66 313.97v5.20M138.34 316.00h5.20M140.94 313.40v5.20M139.63 315.33h5.20M142.23 312.73v5.20M140.91 314.52h5.20M143.51 311.92v5.20M142.20 313.44h5.20M144.80 310.84v5.20M143.49 312.15h5.20M146.09 309.55v5.20M144.77 310.72h5.20M147.37 308.12v5.20M146.06 309.22h5.20M148.66 306.62v5.20M147.34 307.57h5.20M149.94 304.97v5.20M148.63 305.77h5.20M151.23 303.17v5.20M149.92 303.81h5.20M152.52 301.21v5.20M151.20 301.72h5.20M153.80 299.12v5.20M152.49 299.49h5.20M155.09 296.89v5.20M153.77 296.98h5.20M156.37 294.38v5.20M155.06 294.22h5.20M157.66 291.62v5.20M156.35 291.29h5.20M158.95 288.69v5.20M157.63 288.25h5.20M160.23 285.65v5.20M158.92 284.99h5.20M161.52 282.39v5.20M160.20 281.59h5.20M162.80 278.99v5.20M161.49 278.14h5.20M164.09 275.54v5.20M162.78 274.56h5.20M165.38 271.96v5.20M164.06 270.95h5.20M166.66 268.35v5.20M165.35 267.36h5.20M167.95 264.76v5.20M166.63 263.78h5.20M169.23 261.18v5.20M167.92 260.22h5.20M170.52 257.62v5.20M169.20 256.74h5.20M171.80 254.14v5.20M170.49 253.28h5.20M173.09 250.68v5.20M171.78 249.79h5.20M174.38 247.19v5.20M173.06 246.27h5.20M175.66 243.67v5.20M174.35 242.73h5.20M176.95 240.13v5.20M175.63 239.14h5.20M178.23 236.54v5.20M176.92 235.42h5.20M179.52 232.82v5.20M178.21 231.54h5.20M180.81 228.94v5.20M179.49 227.45h5.20M182.09 224.85v5.20M180.78 223.26h5.20M183.38 220.66v5.20M182.06 219.08h5.20M184.66 216.48v5.20M183.35 214.97h5.20M185.95 212.37v5.20M184.64 210.90h5.20M187.24 208.30v5.20M185.92 206.80h5.20M188.52 204.20v5.20M187.21 202.63h5.20M189.81 200.03v5.20M188.49 198.36h5.20M191.09 195.76v5.20M189.78 194.01h5.20M192.38 191.41v5.20M191.07 189.60h5.20M193.67 187.00v5.20M192.35 185.17h5.20M194.95 182.57v5.20M193.64 180.63h5.20M196.24 178.03v5.20M194.92 176.02h5.20M197.52 173.42v5.20M196.21 171.55h5.20M198.81 168.95v5.20M197.50 167.42h5.20M200.10 164.82v5.20M198.78 163.62h5.20M201.38 161.02v5.20M200.07 159.82h5.20M202.67 157.22v5.20M201.35 155.79h5.20M203.95 153.19v5.20M202.64 151.65h5.20M205.24 149.05v5.20M203.93 147.51h5.20M206.53 144.91v5.20M205.21 143.36h5.20M207.81 140.76v5.20M206.50 139.30h5.20M209.10 136.70v5.20M207.78 135.49h5.20M210.38 132.89v5.20M209.07 131.65h5.20M211.67 129.05v5.20M210.35 127.38h5.20M212.95 124.78v5.20M211.64 122.75h5.20M214.24 120.15v5.20M212.93 118.06h5.20M215.53 115.46v5.20M214.21 113.61h5.20M216.81 111.01v5.20M215.50 109.57h5.20M218.10 106.97v5.20M216.78 105.77h5.20M219.38 103.17v5.20M218.07 102.09h5.20M220.67 99.49v5.20M219.36 98.53h5.20M221.96 95.93v5.20M220.64 95.15h5.20M223.24 92.55v5.20M221.93 92.00h5.20M224.53 89.40v5.20M223.21 89.02h5.20M225.81 86.42v5.20M224.50 86.09h5.20M227.10 83.49v5.20M225.79 83.18h5.20M228.39 80.58v5.20M227.07 80.44h5.20M229.67 77.84v5.20M228.36 77.92h5.20M230.96 75.32v5.20M229.64 75.51h5.20M232.24 72.91v5.20M230.93 72.90h5.20M233.53 70.30v5.20M232.22 70.35h5.20M234.82 67.75v5.20M233.50 68.61h5.20M236.10 66.01v5.20M234.79 67.49h5.20M237.39 64.89v5.20M236.07 66.67h5.20M238.67 64.07v5.20M237.36 66.28h5.20M239.96 63.68v5.20M238.65 66.12h5.20M241.25 63.52v5.20M239.93 66.00h5.20M242.53 63.40v5.20M241.22 65.92h5.20M243.82 63.32v5.20M242.50 65.90h5.20M245.10 63.30v5.20M243.79 65.90h5.20M246.39 63.30v5.20M245.07 65.90h5.20M247.67 63.30v5.20M246.36 65.90h5.20M248.96 63.30v5.20M247.65 65.90h5.20M250.25 63.30v5.20M248.93 65.90h5.20M251.53 63.30v5.20M250.22 65.90h5.20M252.82 63.30v5.20M251.50 65.90h5.20M254.10 63.30v5.20M252.79 65.90h5.20M255.39 63.30v5.20M254.08 65.90h5.20M256.68 63.30v5.20M255.36 65.90h5.20M257.96 63.30v5.20M256.65 65.90h5.20M259.25 63.30v5.20M257.93 65.90h5.20M260.53 63.30v5.20M259.22 65.90h5.20M261.82 63.30v5.20M260.51 65.90h5.20M263.11 63.30v5.20M261.79 65.90h5.20M264.39 63.30v5.20M263.08 65.90h5.20M265.68 63.30v5.20M264.36 65.90h5.20M266.96 63.30v5.20M265.65 65.90h5.20M268.25 63.30v5.20M266.94 65.90h5.20M269.54 63.30v5.20M268.22 65.90h5.20M270.82 63.30v5.20M269.51 65.90h5.20M272.11 63.30v5.20M270.79 65.90h5.20M273.39 63.30v5.20M272.08 65.90h5.20M274.68 63.30v5.20M273.37 65.90h5.20M275.97 63.30v5.20M274.65 65.90h5.20M277.25 63.30v5.20M275.94 65.90h5.20M278.54 63.30v5.20M277.22 65.90h5.20M279.82 63.30v5.20M278.51 65.90h5.20M281.11 63.30v5.20M279.80 65.90h5.20M282.40 63.30v5.20M281.08 65.90h5.20M283.68 63.30v5.20M282.37 65.90h5.20M284.97 63.30v5.20M283.65 65.90h5.20M286.25 63.30v5.20M284.94 65.90h5.20M287.54 63.30v5.20M286.22 65.90h5.20M288.82 63.30v5.20M287.51 65.90h5.20M290.11 63.30v5.20M288.80 65.90h5.20M291.40 63.30v5.20M290.08 65.90h5.20M292.68 63.30v5.20M291.37 65.90h5.20M293.97 63.30v5.20M292.65 65.90h5.20M295.25 63.30v5.20M293.94 65.90h5.20M296.54 63.30v5.20M295.23 65.90h5.20M297.83 63.30v5.20M296.51 65.90h5.20M299.11 63.30v5.20M297.80 65.90h5.20M300.40 63.30v5.20M299.08 65.90h5.20M301.68 63.30v5.20M300.37 65.90h5.20M302.97 63.30v5.20M301.66 65.90h5.20M304.26 63.30v5.20M302.94 65.90h5.20M305.54 63.30v5.20M304.23 65.90h5.20M306.83 63.30v5.20M305.51 65.90h5.20M308.11 63.30v5.20M306.80 65.90h5.20M309.40 63.30v5.20M308.09 65.90h5.20M310.69 63.30v5.20M309.37 65.90h5.20M311.97 63.30v5.20M310.66 65.90h5.20M313.26 63.30v5.20M311.94 65.90h5.20M314.54 63.30v5.20M313.23 65.90h5.20M315.83 63.30v5.20M314.52 65.90h5.20M317.12 63.30v5.20M315.80 65.90h5.20M318.40 63.30v5.20M317.09 65.90h5.20M319.69 63.30v5.20M318.37 65.90h5.20M320.97 63.30v5.20M319.66 65.90h5.20M322.26 63.30v5.20M320.95 65.90h5.20M323.55 63.30v5.20M322.23 65.90h5.20M324.83 63.30v5.20M323.52 65.90h5.20M326.12 63.30v5.20M324.80 65.90h5.20M327.40 63.30v5.20M326.09 65.90h5.20M328.69 63.30v5.20M327.37 65.90h5.20M329.97 63.30v5.20M328.66 65.90h5.20M331.26 63.30v5.20M329.95 65.90h5.20M332.55 63.30v5.20M331.23 65.90h5.20M333.83 63.30v5.20M332.52 65.90h5.20M335.12 63.30v5.20M333.80 65.90h5.20M336.40 63.30v5.20M335.09 65.90h5.20M337.69 63.30v5.20M336.38 65.90h5.20M338.98 63.30v5.20M337.66 65.90h5.20M340.26 63.30v5.20M338.95 65.90h5.20M341.55 63.30v5.20M340.23 65.90h5.20M342.83 63.30v5.20M341.52 65.90h5.20M344.12 63.30v5.20M342.81 65.90h5.20M345.41 63.30v5.20M344.09 65.90h5.20M346.69 63.30v5.20M345.38 65.90h5.20M347.98 63.30v5.20M346.66 65.90h5.20M349.26 63.30v5.20M347.95 65.90h5.20M350.55 63.30v5.20M349.24 65.90h5.20M351.84 63.30v5.20M350.52 65.90h5.20M353.12 63.30v5.20M351.81 65.90h5.20M354.41 63.30v5.20M353.09 65.90h5.20M355.69 63.30v5.20M354.38 65.90h5.20M356.98 63.30v5.20M355.67 65.90h5.20M358.27 63.30v5.20M356.95 65.90h5.20M359.55 63.30v5.20M358.24 65.90h5.20M360.84 63.30v5.20M359.52 65.90h5.20M362.12 63.30v5.20M360.81 65.90h5.20M363.41 63.30v5.20M362.10 66.01h5.20M364.70 63.41v5.20M363.38 66.60h5.20M365.98 64.00v5.20M364.67 68.00h5.20M367.27 65.40v5.20M365.95 73.00h5.20M368.55 70.40v5.20M367.24 82.70h5.20M369.84 80.10v5.20M368.52 104.30h5.20M371.12 101.70v5.20M369.81 145.50h5.20M372.41 142.90v5.20M371.10 205.90h5.20M373.70 203.30v5.20M372.38 266.30h5.20M374.98 263.70v5.20M373.67 301.50h5.20M376.27 298.90v5.20M374.95 314.60h5.20M377.55 312.00v5.20M376.24 318.30h5.20M378.84 315.70v5.20M377.53 319.50h5.20M380.13 316.90v5.20M378.81 319.50h5.20M381.41 316.90v5.20M380.10 319.50h5.20M382.70 316.90v5.20M381.38 319.50h5.20M383.98 316.90v5.20M382.67 319.50h5.20M385.27 316.90v5.20M383.96 319.50h5.20M386.56 316.90v5.20M385.24 319.50h5.20M387.84 316.90v5.20M386.53 319.50h5.20M389.13 316.90v5.20M387.81 319.50h5.20M390.41 316.90v5.20M389.10 319.50h5.20M391.70 316.90v5.20M390.39 319.50h5.20M392.99 316.90v5.20M391.67 319.50h5.20M394.27 316.90v5.20M392.96 319.50h5.20M395.56 316.90v5.20M394.24 319.50h5.20M396.84 316.90v5.20M395.53 319.50h5.20M398.13 316.90v5.20M396.82 319.50h5.20M399.42 316.90v5.20M398.10 319.50h5.20M400.70 316.90v5.20M399.39 319.50h5.20M401.99 316.90v5.20M400.67 319.50h5.20M403.27 316.90v5.20M401.96 319.50h5.20M404.56 316.90v5.20M403.25 319.50h5.20M405.85 316.90v5.20M404.53 319.50h5.20M407.13 316.90v5.20M405.82 319.50h5.20M408.42 316.90v5.20M407.10 319.50h5.20M409.70 316.90v5.20M408.39 319.50h5.20M410.99 316.90v5.20M409.67 319.50h5.20M412.27 316.90v5.20M410.96 319.50h5.20M413.56 316.90v5.20M412.25 319.50h5.20M414.85 316.90v5.20M413.53 319.50h5.20M416.13 316.90v5.20M414.82 319.50h5.20M417.42 316.90v5.20M416.10 319.50h5.20M418.70 316.90v5.20M417.39 319.50h5.20M419.99 316.90v5.20M418.68 319.50h5.20M421.28 316.90v5.20M419.96 319.50h5.20M422.56 316.90v5.20M421.25 319.50h5.20M423.85 316.90v5.20M422.53 319.50h5.20M425.13 316.90v5.20M423.82 319.50h5.20M426.42 316.90v5.20M425.11 319.50h5.20M427.71 316.90v5.20M426.39 319.50h5.20M428.99 316.90v5.20M427.68 319.50h5.20M430.28 316.90v5.20M428.96 319.50h5.20M431.56 316.90v5.20M430.25 319.50h5.20M432.85 316.90v5.20M431.54 319.50h5.20M434.14 316.90v5.20M432.82 319.50h5.20M435.42 316.90v5.20M434.11 319.50h5.20M436.71 316.90v5.20M435.39 319.50h5.20M437.99 316.90v5.20M436.68 319.50h5.20M439.28 316.90v5.20M437.97 319.50h5.20M440.57 316.90v5.20M439.25 319.50h5.20M441.85 316.90v5.20M440.54 319.50h5.20M443.14 316.90v5.20M441.82 319.50h5.20M444.42 316.90v5.20M443.11 319.50h5.20M445.71 316.90v5.20M444.40 319.50h5.20M447.00 316.90v5.20M445.68 319.50h5.20M448.28 316.90v5.20M446.97 319.50h5.20M449.57 316.90v5.20M448.25 319.50h5.20M450.85 316.90v5.20M449.54 319.50h5.20M452.14 316.90v5.20M450.82 319.50h5.20M453.43 316.90v5.20M452.11 319.50h5.20M454.71 316.90v5.20M453.40 319.50h5.20M456.00 316.90v5.20M454.68 319.50h5.20M457.28 316.90v5.20M455.97 319.50h5.20M458.57 316.90v5.20M457.25 319.50h5.20M459.85 316.90v5.20M458.54 319.50h5.20M461.14 316.90v5.20M459.83 319.50h5.20M462.43 316.90v5.20M461.11 319.50h5.20M463.71 316.90v5.20M462.40 319.50h5.20M465.00 316.90v5.20M463.68 319.50h5.20M466.28 316.90v5.20M464.97 319.50h5.20M467.57 316.90v5.20M466.26 319.50h5.20M468.86 316.90v5.20M467.54 319.50h5.20M470.14 316.90v5.20M468.83 319.50h5.20M471.43 316.90v5.20M470.11 319.50h5.20M472.71 316.90v5.20M471.40 319.50h5.20M474.00 316.90v5.20M312.90 248.20h5.20M315.50 245.60v5.20" fill="none" stroke="#00f" stroke-width="0.65"/>
<path d="M60.15 317.15l4.70 4.70M60.15 321.85l4.70 -4.70M61.44 317.15l4.70 4.70M61.44 321.85l4.70 -4.70M62.72 317.15l4.70 4.70M62.72 321.85l4.70 -4.70M64.01 317.15l4.70 4.70M64.01 321.85l4.70 -4.70M65.29 317.15l4.70 4.70M65.29 321.85l4.70 -4.70M66.58 317.15l4.70 4.70M66.58 321.85l4.70 -4.70M67.87 317.15l4.70 4.70M67.87 321.85l4.70 -4.70M69.15 317.15l4.70 4.70M69.15 321.85l4.70 -4.70M70.44 317.15l4.70 4.70M70.44 321.85l4.70 -4.70M71.72 317.15l4.70 4.70M71.72 321.85l4.70 -4.70M73.01 317.15l4.70 4.70M73.01 321.85l4.70 -4.70M74.30 317.15l4.70 4.70M74.30 321.85l4.70 -4.70M75.58 317.15l4.70 4.70M75.58 321.85l4.70 -4.70M76.87 317.15l4.70 4.70M76.87 321.85l4.70 -4.70M78.15 317.15l4.70 4.70M78.15 321.85l4.70 -4.70M79.44 317.15l4.70 4.70M79.44 321.85l4.70 -4.70M80.73 317.15l4.70 4.70M80.73 321.85l4.70 -4.70M82.01 317.15l4.70 4.70M82.01 321.85l4.70 -4.70M83.30 317.15l4.70 4.70M83.30 321.85l4.70 -4.70M84.58 317.15l4.70 4.70M84.58 321.85l4.70 -4.70M85.87 317.15l4.70 4.70M85.87 321.85l4.70 -4.70M87.15 317.15l4.70 4.70M87.15 321.85l4.70 -4.70M88.44 317.15l4.70 4.70M88.44 321.85l4.70 -4.70M89.73 317.15l4.70 4.70M89.73 321.85l4.70 -4.70M91.01 317.15l4.70 4.70M91.01 321.85l4.70 -4.70M92.30 317.15l4.70 4.70M92.30 321.85l4.70 -4.70M93.58 317.15l4.70 4.70M93.58 321.85l4.70 -4.70M94.87 317.15l4.70 4.70M94.87 321.85l4.70 -4.70M96.16 317.15l4.70 4.70M96.16 321.85l4.70 -4.70M97.44 317.15l4.70 4.70M97.44 321.85l4.70 -4.70M98.73 317.15l4.70 4.70M98.73 321.85l4.70 -4.70M100.01 317.15l4.70 4.70M100.01 321.85l4.70 -4.70M101.30 317.15l4.70 4.70M101.30 321.85l4.70 -4.70M102.59 317.15l4.70 4.70M102.59 321.85l4.70 -4.70M103.87 317.15l4.70 4.70M103.87 321.85l4.70 -4.70M105.16 317.15l4.70 4.70M105.16 321.85l4.70 -4.70M106.44 317.15l4.70 4.70M106.44 321.85l4.70 -4.70M107.73 317.15l4.70 4.70M107.73 321.85l4.70 -4.70M109.02 317.15l4.70 4.70M109.02 321.85l4.70 -4.70M110.30 317.15l4.70 4.70M110.30 321.85l4.70 -4.70M111.59 317.15l4.70 4.70M111.59 321.85l4.70 -4.70M112.87 317.15l4.70 4.70M112.87 321.85l4.70 -4.70M114.16 317.15l4.70 4.70M114.16 321.85l4.70 -4.70M115.45 317.15l4.70 4.70M115.45 321.85l4.70 -4.70M116.73 317.15l4.70 4.70M116.73 321.85l4.70 -4.70M118.02 317.15l4.70 4.70M118.02 321.85l4.70 -4.70M119.30 317.15l4.70 4.70M119.30 321.85l4.70 -4.70M120.59 317.15l4.70 4.70M120.59 321.85l4.70 -4.70M121.88 317.15l4.70 4.70M121.88 321.85l4.70 -4.70M123.16 317.15l4.70 4.70M123.16 321.85l4.70 -4.70M124.45 317.15l4.70 4.70M124.45 321.85l4.70 -4.70M125.73 317.15l4.70 4.70M125.73 321.85l4.70 -4.70M127.02 317.08l4.70 4.70M127.02 321.78l4.70 -4.70M128.30 316.89l4.70 4.70M128.30 321.59l4.70 -4.70M129.59 316.62l4.70 4.70M129.59 321.32l4.70 -4.70M130.88 316.29l4.70 4.70M130.88 320.99l4.70 -4.70M132.16 315.91l4.70 4.70M132.16 320.61l4.70 -4.70M133.45 315.52l4.70 4.70M133.45 320.22l4.70 -4.70M134.73 315.13l4.70 4.70M134.73 319.83l4.70 -4.70M136.02 314.71l4.70 4.70M136.02 319.41l4.70 -4.70M137.31 314.22l4.70 4.70M137.31 318.92l4.70 -4.70M138.59 313.65l4.70 4.70M138.59 318.35l4.70 -4.70M139.88 312.98l4.70 4.70M139.88 317.68l4.70 -4.70M141.16 312.17l4.70 4.70M141.16 316.87l4.70 -4.70M142.45 311.09l4.70 4.70M142.45 315.79l4.70 -4.70M143.74 309.80l4.70 4.70M143.74 314.50l4.70 -4.70M145.02 308.37l4.70 4.70M145.02 313.07l4.70 -4.70M146.31 306.87l4.70 4.70M146.31 311.57l4.70 -4.70M147.59 305.22l4.70 4.70M147.59 309.92l4.70 -4.70M148.88 303.42l4.70 4.70M148.88 308.12l4.70 -4.70M150.17 301.46l4.70 4.70M150.17 306.16l4.70 -4.70M151.45 299.37l4.70 4.70M151.45 304.07l4.70 -4.70M152.74 297.14l4.70 4.70M152.74 301.84l4.70 -4.70M154.02 294.63l4.70 4.70M154.02 299.33l4.70 -4.70M155.31 291.87l4.70 4.70M155.31 296.57l4.70 -4.70M156.60 288.94l4.70 4.70M156.60 293.64l4.70 -4.70M157.88 285.90l4.70 4.70M157.88 290.60l4.70 -4.70M159.17 282.64l4.70 4.70M159.17 287.34l4.70 -4.70M160.45 279.24l4.70 4.70M160.45 283.94l4.70 -4.70M161.74 275.79l4.70 4.70M161.74 280.49l4.70 -4.70M163.03 272.21l4.70 4.70M163.03 276.91l4.70 -4.70M164.31 268.60l4.70 4.70M164.31 273.30l4.70 -4.70M165.60 265.01l4.70 4.70M165.60 269.71l4.70 -4.70M166.88 261.43l4.70 4.70M166.88 266.13l4.70 -4.70M168.17 257.87l4.70 4.70M168.17 262.57l4.70 -4.70M169.45 254.39l4.70 4.70M169.45 259.09l4.70 -4.70M170.74 250.93l4.70 4.70M170.74 255.63l4.70 -4.70M172.03 247.44l4.70 4.70M172.03 252.14l4.70 -4.70M173.31 243.92l4.70 4.70M173.31 248.62l4.70 -4.70M174.60 240.38l4.70 4.70M174.60 245.08l4.70 -4.70M175.88 236.79l4.70 4.70M175.88 241.49l4.70 -4.70M177.17 233.07l4.70 4.70M177.17 237.77l4.70 -4.70M178.46 229.19l4.70 4.70M178.46 233.89l4.70 -4.70M179.74 225.10l4.70 4.70M179.74 229.80l4.70 -4.70M181.03 220.91l4.70 4.70M181.03 225.61l4.70 -4.70M182.31 216.73l4.70 4.70M182.31 221.43l4.70 -4.70M183.60 212.62l4.70 4.70M183.60 217.32l4.70 -4.70M184.89 208.55l4.70 4.70M184.89 213.25l4.70 -4.70M186.17 204.45l4.70 4.70M186.17 209.15l4.70 -4.70M187.46 200.28l4.70 4.70M187.46 204.98l4.70 -4.70M188.74 196.01l4.70 4.70M188.74 200.71l4.70 -4.70M190.03 191.66l4.70 4.70M190.03 196.36l4.70 -4.70M191.32 187.25l4.70 4.70M191.32 191.95l4.70 -4.70M192.60 182.82l4.70 4.70M192.60 187.52l4.70 -4.70M193.89 178.28l4.70 4.70M193.89 182.98l4.70 -4.70M195.17 173.67l4.70 4.70M195.17 178.37l4.70 -4.70M196.46 169.20l4.70 4.70M196.46 173.90l4.70 -4.70M197.75 165.07l4.70 4.70M197.75 169.77l4.70 -4.70M199.03 161.27l4.70 4.70M199.03 165.97l4.70 -4.70M200.32 157.47l4.70 4.70M200.32 162.17l4.70 -4.70M201.60 153.44l4.70 4.70M201.60 158.14l4.70 -4.70M202.89 149.30l4.70 4.70M202.89 154.00l4.70 -4.70M204.18 145.16l4.70 4.70M204.18 149.86l4.70 -4.70M205.46 141.01l4.70 4.70M205.46 145.71l4.70 -4.70M206.75 136.95l4.70 4.70M206.75 141.65l4.70 -4.70M208.03 133.14l4.70 4.70M208.03 137.84l4.70 -4.70M209.32 129.30l4.70 4.70M209.32 134.00l4.70 -4.70M210.60 125.03l4.70 4.70M210.60 129.73l4.70 -4.70M211.89 120.40l4.70 4.70M211.89 125.10l4.70 -4.70M213.18 115.71l4.70 4.70M213.18 120.41l4.70 -4.70M214.46 111.26l4.70 4.70M214.46 115.96l4.70 -4.70M215.75 107.22l4.70 4.70M215.75 111.92l4.70 -4.70M217.03 103.42l4.70 4.70M217.03 108.12l4.70 -4.70M218.32 99.74l4.70 4.70M218.32 104.44l4.70 -4.70M219.61 96.18l4.70 4.70M219.61 100.88l4.70 -4.70M220.89 92.80l4.70 4.70M220.89 97.50l4.70 -4.70M222.18 89.65l4.70 4.70M222.18 94.35l4.70 -4.70M223.46 86.67l4.70 4.70M223.46 91.37l4.70 -4.70M224.75 83.74l4.70 4.70M224.75 88.44l4.70 -4.70M226.04 80.83l4.70 4.70M226.04 85.53l4.70 -4.70M227.32 78.09l4.70 4.70M227.32 82.79l4.70 -4.70M228.61 75.57l4.70 4.70M228.61 80.27l4.70 -4.70M229.89 73.16l4.70 4.70M229.89 77.86l4.70 -4.70M231.18 70.55l4.70 4.70M231.18 75.25l4.70 -4.70M232.47 68.00l4.70 4.70M232.47 72.70l4.70 -4.70M233.75 66.26l4.70 4.70M233.75 70.96l4.70 -4.70M235.04 65.14l4.70 4.70M235.04 69.84l4.70 -4.70M236.32 64.32l4.70 4.70M236.32 69.02l4.70 -4.70M237.61 63.93l4.70 4.70M237.61 68.63l4.70 -4.70M238.90 63.77l4.70 4.70M238.90 68.47l4.70 -4.70M240.18 63.65l4.70 4.70M240.18 68.35l4.70 -4.70M241.47 63.57l4.70 4.70M241.47 68.27l4.70 -4.70M242.75 63.55l4.70 4.70M242.75 68.25l4.70 -4.70M244.04 63.55l4.70 4.70M244.04 68.25l4.70 -4.70M245.32 63.55l4.70 4.70M245.32 68.25l4.70 -4.70M246.61 63.55l4.70 4.70M246.61 68.25l4.70 -4.70M247.90 63.55l4.70 4.70M247.90 68.25l4.70 -4.70M249.18 63.55l4.70 4.70M249.18 68.25l4.70 -4.70M250.47 63.55l4.70 4.70M250.47 68.25l4.70 -4.70M251.75 63.55l4.70 4.70M251.75 68.25l4.70 -4.70M253.04 63.55l4.70 4.70M253.04 68.25l4.70 -4.70M254.33 63.55l4.70 4.70M254.33 68.25l4.70 -4.70M255.61 63.55l4.70 4.70M255.61 68.25l4.70 -4.70M256.90 63.55l4.70 4.70M256.90 68.25l4.70 -4.70M258.18 63.55l4.70 4.70M258.18 68.25l4.70 -4.70M259.47 63.55l4.70 4.70M259.47 68.25l4.70 -4.70M260.76 63.55l4.70 4.70M260.76 68.25l4.70 -4.70M262.04 63.55l4.70 4.70M262.04 68.25l4.70 -4.70M263.33 63.55l4.70 4.70M263.33 68.25l4.70 -4.70M264.61 63.55l4.70 4.70M264.61 68.25l4.70 -4.70M265.90 63.55l4.70 4.70M265.90 68.25l4.70 -4.70M267.19 63.55l4.70 4.70M267.19 68.25l4.70 -4.70M268.47 63.55l4.70 4.70M268.47 68.25l4.70 -4.70M269.76 63.55l4.70 4.70M269.76 68.25l4.70 -4.70M271.04 63.55l4.70 4.70M271.04 68.25l4.70 -4.70M272.33 63.55l4.70 4.70M272.33 68.25l4.70 -4.70M273.62 63.55l4.70 4.70M273.62 68.25l4.70 -4.70M274.90 63.55l4.70 4.70M274.90 68.25l4.70 -4.70M276.19 63.55l4.70 4.70M276.19 68.25l4.70 -4.70M277.47 63.55l4.70 4.70M277.47 68.25l4.70 -4.70M278.76 63.55l4.70 4.70M278.76 68.25l4.70 -4.70M280.05 63.55l4.70 4.70M280.05 68.25l4.70 -4.70M281.33 63.55l4.70 4.70M281.33 68.25l4.70 -4.70M282.62 63.55l4.70 4.70M282.62 68.25l4.70 -4.70M283.90 63.55l4.70 4.70M283.90 68.25l4.70 -4.70M285.19 63.55l4.70 4.70M285.19 68.25l4.70 -4.70M286.47 63.55l4.70 4.70M286.47 68.25l4.70 -4.70M287.76 63.55l4.70 4.70M287.76 68.25l4.70 -4.70M289.05 63.55l4.70 4.70M289.05 68.25l4.70 -4.70M290.33 63.55l4.70 4.70M290.33 68.25l4.70 -4.70M291.62 63.55l4.70 4.70M291.62 68.25l4.70 -4.70M292.90 63.55l4.70 4.70M292.90 68.25l4.70 -4.70M294.19 63.55l4.70 4.70M294.19 68.25l4.70 -4.70M295.48 63.55l4.70 4.70M295.48 68.25l4.70 -4.70M296.76 63.55l4.70 4.70M296.76 68.25l4.70 -4.70M298.05 63.55l4.70 4.70M298.05 68.25l4.70 -4.70M299.33 63.55l4.70 4.70M299.33 68.25l4.70 -4.70M300.62 63.55l4.70 4.70M300.62 68.25l4.70 -4.70M301.91 63.55l4.70 4.70M301.91 68.25l4.70 -4.70M303.19 63.55l4.70 4.70M303.19 68.25l4.70 -4.70M304.48 63.55l4.70 4.70M304.48 68.25l4.70 -4.70M305.76 63.55l4.70 4.70M305.76 68.25l4.70 -4.70M307.05 63.55l4.70 4.70M307.05 68.25l4.70 -4.70M308.34 63.55l4.70 4.70M308.34 68.25l4.70 -4.70M309.62 63.55l4.70 4.70M309.62 68.25l4.70 -4.70M310.91 63.55l4.70 4.70M310.91 68.25l4.70 -4.70M312.19 63.55l4.70 4.70M312.19 68.25l4.70 -4.70M313.48 63.55l4.70 4.70M313.48 68.25l4.70 -4.70M314.77 63.55l4.70 4.70M314.77 68.25l4.70 -4.70M316.05 63.55l4.70 4.70M316.05 68.25l4.70 -4.70M317.34 63.55l4.70 4.70M317.34 68.25l4.70 -4.70M318.62 63.55l4.70 4.70M318.62 68.25l4.70 -4.70M319.91 63.55l4.70 4.70M319.91 68.25l4.70 -4.70M321.20 63.55l4.70 4.70M321.20 68.25l4.70 -4.70M322.48 63.55l4.70 4.70M322.48 68.25l4.70 -4.70M323.77 63.55l4.70 4.70M323.77 68.25l4.70 -4.70M325.05 63.55l4.70 4.70M325.05 68.25l4.70 -4.70M326.34 63.55l4.70 4.70M326.34 68.25l4.70 -4.70M327.62 63.55l4.70 4.70M327.62 68.25l4.70 -4.70M328.91 63.55l4.70 4.70M328.91 68.25l4.70 -4.70M330.20 63.55l4.70 4.70M330.20 68.25l4.70 -4.70M331.48 63.55l4.70 4.70M331.48 68.25l4.70 -4.70M332.77 63.55l4.70 4.70M332.77 68.25l4.70 -4.70M334.05 63.55l4.70 4.70M334.05 68.25l4.70 -4.70M335.34 63.55l4.70 4.70M335.34 68.25l4.70 -4.70M336.63 63.55l4.70 4.70M336.63 68.25l4.70 -4.70M337.91 63.55l4.70 4.70M337.91 68.25l4.70 -4.70M339.20 63.55l4.70 4.70M339.20 68.25l4.70 -4.70M340.48 63.55l4.70 4.70M340.48 68.25l4.70 -4.70M341.77 63.55l4.70 4.70M341.77 68.25l4.70 -4.70M343.06 63.55l4.70 4.70M343.06 68.25l4.70 -4.70M344.34 63.55l4.70 4.70M344.34 68.25l4.70 -4.70M345.63 63.55l4.70 4.70M345.63 68.25l4.70 -4.70M346.91 63.55l4.70 4.70M346.91 68.25l4.70 -4.70M348.20 63.55l4.70 4.70M348.20 68.25l4.70 -4.70M349.49 63.55l4.70 4.70M349.49 68.25l4.70 -4.70M350.77 63.55l4.70 4.70M350.77 68.25l4.70 -4.70M352.06 63.55l4.70 4.70M352.06 68.25l4.70 -4.70M353.34 63.55l4.70 4.70M353.34 68.25l4.70 -4.70M354.63 63.55l4.70 4.70M354.63 68.25l4.70 -4.70M355.92 63.55l4.70 4.70M355.92 68.25l4.70 -4.70M357.20 63.55l4.70 4.70M357.20 68.25l4.70 -4.70M358.49 63.55l4.70 4.70M358.49 68.25l4.70 -4.70M359.77 63.55l4.70 4.70M359.77 68.25l4.70 -4.70M361.06 63.55l4.70 4.70M361.06 68.25l4.70 -4.70M362.35 63.66l4.70 4.70M362.35 68.36l4.70 -4.70M363.63 64.25l4.70 4.70M363.63 68.95l4.70 -4.70M364.92 65.65l4.70 4.70M364.92 70.35l4.70 -4.70M366.20 70.65l4.70 4.70M366.20 75.35l4.70 -4.70M367.49 80.35l4.70 4.70M367.49 85.05l4.70 -4.70M368.77 101.95l4.70 4.70M368.77 106.65l4.70 -4.70M370.06 143.15l4.70 4.70M370.06 147.85l4.70 -4.70M371.35 203.55l4.70 4.70M371.35 208.25l4.70 -4.70M372.63 263.95l4.70 4.70M372.63 268.65l4.70 -4.70M373.92 299.15l4.70 4.70M373.92 303.85l4.70 -4.70M375.20 312.25l4.70 4.70M375.20 316.95l4.70 -4.70M376.49 315.95l4.70 4.70M376.49 320.65l4.70 -4.70M377.78 317.15l4.70 4.70M377.78 321.85l4.70 -4.70M379.06 317.15l4.70 4.70M379.06 321.85l4.70 -4.70M380.35 317.15l4.70 4.70M380.35 321.85l4.70 -4.70M381.63 317.15l4.70 4.70M381.63 321.85l4.70 -4.70M382.92 317.15l4.70 4.70M382.92 321.85l4.70 -4.70M384.21 317.15l4.70 4.70M384.21 321.85l4.70 -4.70M385.49 317.15l4.70 4.70M385.49 321.85l4.70 -4.70M386.78 317.15l4.70 4.70M386.78 321.85l4.70 -4.70M388.06 317.15l4.70 4.70M388.06 321.85l4.70 -4.70M389.35 317.15l4.70 4.70M389.35 321.85l4.70 -4.70M390.64 317.15l4.70 4.70M390.64 321.85l4.70 -4.70M391.92 317.15l4.70 4.70M391.92 321.85l4.70 -4.70M393.21 317.15l4.70 4.70M393.21 321.85l4.70 -4.70M394.49 317.15l4.70 4.70M394.49 321.85l4.70 -4.70M395.78 317.15l4.70 4.70M395.78 321.85l4.70 -4.70M397.07 317.15l4.70 4.70M397.07 321.85l4.70 -4.70M398.35 317.15l4.70 4.70M398.35 321.85l4.70 -4.70M399.64 317.15l4.70 4.70M399.64 321.85l4.70 -4.70M400.92 317.15l4.70 4.70M400.92 321.85l4.70 -4.70M402.21 317.15l4.70 4.70M402.21 321.85l4.70 -4.70M403.50 317.15l4.70 4.70M403.50 321.85l4.70 -4.70M404.78 317.15l4.70 4.70M404.78 321.85l4.70 -4.70M406.07 317.15l4.70 4.70M406.07 321.85l4.70 -4.70M407.35 317.15l4.70 4.70M407.35 321.85l4.70 -4.70M408.64 317.15l4.70 4.70M408.64 321.85l4.70 -4.70M409.92 317.15l4.70 4.70M409.92 321.85l4.70 -4.70M411.21 317.15l4.70 4.70M411.21 321.85l4.70 -4.70M412.50 317.15l4.70 4.70M412.50 321.85l4.70 -4.70M413.78 317.15l4.70 4.70M413.78 321.85l4.70 -4.70M415.07 317.15l4.70 4.70M415.07 321.85l4.70 -4.70M416.35 317.15l4.70 4.70M416.35 321.85l4.70 -4.70M417.64 317.15l4.70 4.70M417.64 321.85l4.70 -4.70M418.93 317.15l4.70 4.70M418.93 321.85l4.70 -4.70M420.21 317.15l4.70 4.70M420.21 321.85l4.70 -4.70M421.50 317.15l4.70 4.70M421.50 321.85l4.70 -4.70M422.78 317.15l4.70 4.70M422.78 321.85l4.70 -4.70M424.07 317.15l4.70 4.70M424.07 321.85l4.70 -4.70M425.36 317.15l4.70 4.70M425.36 321.85l4.70 -4.70M426.64 317.15l4.70 4.70M426.64 321.85l4.70 -4.70M427.93 317.15l4.70 4.70M427.93 321.85l4.70 -4.70M429.21 317.15l4.70 4.70M429.21 321.85l4.70 -4.70M430.50 317.15l4.70 4.70M430.50 321.85l4.70 -4.70M431.79 317.15l4.70 4.70M431.79 321.85l4.70 -4.70M433.07 317.15l4.70 4.70M433.07 321.85l4.70 -4.70M434.36 317.15l4.70 4.70M434.36 321.85l4.70 -4.70M435.64 317.15l4.70 4.70M435.64 321.85l4.70 -4.70M436.93 317.15l4.70 4.70M436.93 321.85l4.70 -4.70M438.22 317.15l4.70 4.70M438.22 321.85l4.70 -4.70M439.50 317.15l4.70 4.70M439.50 321.85l4.70 -4.70M440.79 317.15l4.70 4.70M440.79 321.85l4.70 -4.70M442.07 317.15l4.70 4.70M442.07 321.85l4.70 -4.70M443.36 317.15l4.70 4.70M443.36 321.85l4.70 -4.70M444.65 317.15l4.70 4.70M444.65 321.85l4.70 -4.70M445.93 317.15l4.70 4.70M445.93 321.85l4.70 -4.70M447.22 317.15l4.70 4.70M447.22 321.85l4.70 -4.70M448.50 317.15l4.70 4.70M448.50 321.85l4.70 -4.70M449.79 317.15l4.70 4.70M449.79 321.85l4.70 -4.70M451.07 317.15l4.70 4.70M451.07 321.85l4.70 -4.70M452.36 317.15l4.70 4.70M452.36 321.85l4.70 -4.70M453.65 317.15l4.70 4.70M453.65 321.85l4.70 -4.70M454.93 317.15l4.70 4.70M454.93 321.85l4.70 -4.70M456.22 317.15l4.70 4.70M456.22 321.85l4.70 -4.70M457.50 317.15l4.70 4.70M457.50 321.85l4.70 -4.70M458.79 317.15l4.70 4.70M458.79 321.85l4.70 -4.70M460.08 317.15l4.70 4.70M460.08 321.85l4.70 -4.70M461.36 317.15l4.70 4.70M461.36 321.85l4.70 -4.70M462.65 317.15l4.70 4.70M462.65 321.85l4.70 -4.70M463.93 317.15l4.70 4.70M463.93 321.85l4.70 -4.70M465.22 317.15l4.70 4.70M465.22 321.85l4.70 -4.70M466.51 317.15l4.70 4.70M466.51 321.85l4.70 -4.70M467.79 317.15l4.70 4.70M467.79 321.85l4.70 -4.70M469.08 317.15l4.70 4.70M469.08 321.85l4.70 -4.70M470.36 317.15l4.70 4.70M470.36 321.85l4.70 -4.70M471.65 317.15l4.70 4.70M471.65 321.85l4.70 -4.70M313.15 245.85l4.70 4.70M313.15 250.55l4.70 -4.70" fill="none" stroke="#00f" stroke-width="0.95"/>
<path d="M62.5 45.8H474.0V319.3H62.5Z" fill="none" stroke="#000" stroke-width="1"/>
</svg></body></html>
